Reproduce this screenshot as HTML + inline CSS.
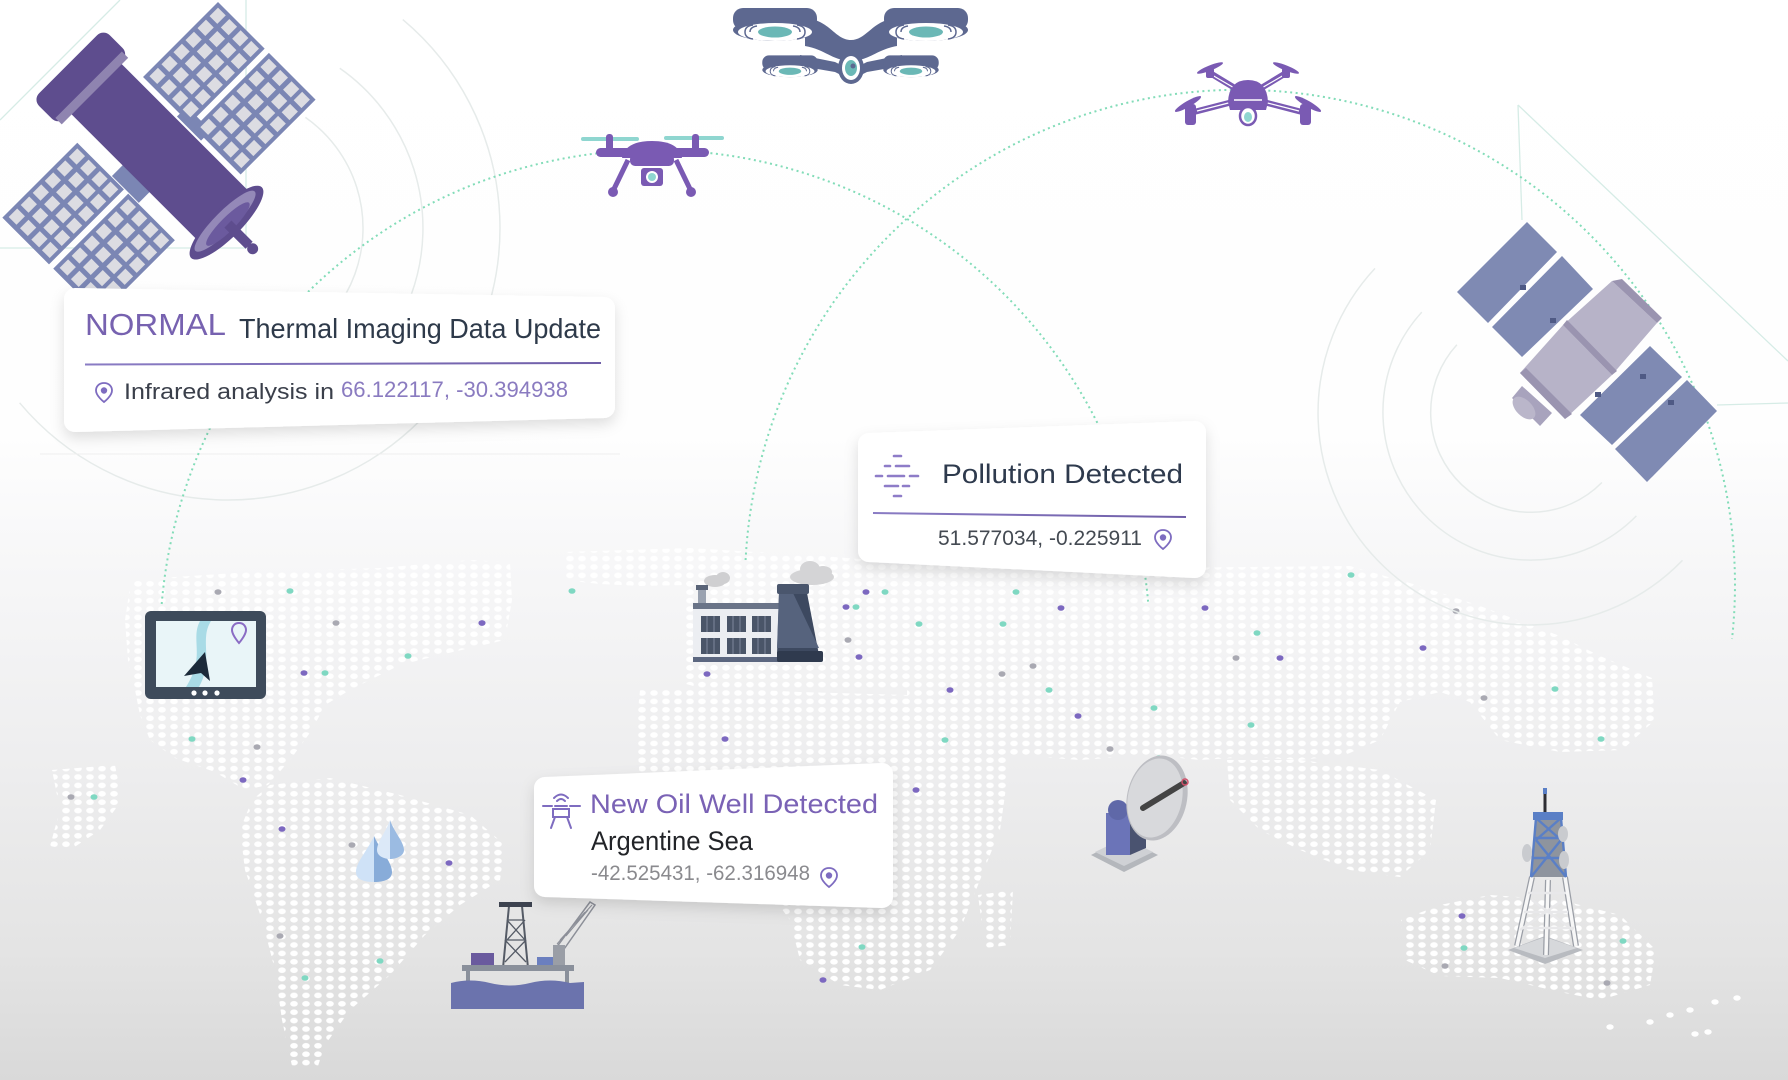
<!DOCTYPE html>
<html><head><meta charset="utf-8"><style>
html,body{margin:0;padding:0;background:#fff;}
svg{display:block;}
text{font-family:"Liberation Sans",Arial,sans-serif;}
</style></head><body>
<svg width="1788" height="1080" viewBox="0 0 1788 1080" xmlns="http://www.w3.org/2000/svg">
<defs>
<linearGradient id="bg" x1="0" y1="0" x2="0" y2="1">
<stop offset="0" stop-color="#ffffff"/><stop offset="0.40" stop-color="#fefefe"/><stop offset="0.52" stop-color="#f7f7f8"/><stop offset="0.70" stop-color="#eeeeef"/><stop offset="0.88" stop-color="#e4e4e4"/><stop offset="1" stop-color="#d9d9d9"/>
</linearGradient>
<pattern id="dots" width="12" height="8.4" patternUnits="userSpaceOnUse"><ellipse cx="6" cy="4.2" rx="3.8" ry="2.8" fill="#ffffff"/></pattern>
<linearGradient id="pl" x1="0" y1="0" x2="1" y2="0"><stop offset="0" stop-color="#8a7cc4"/><stop offset="1" stop-color="#6f5ea8"/></linearGradient>
<filter id="sh" x="-10%" y="-20%" width="120%" height="150%"><feDropShadow dx="0" dy="6" stdDeviation="7" flood-color="#000" flood-opacity="0.13"/></filter>
<g id="panel"><rect x="0" y="0" width="66" height="106" fill="#7b86b4"/>
<g fill="#dcdce2">
<rect x="4" y="4" width="11" height="12"/><rect x="20" y="4" width="11" height="12"/><rect x="36" y="4" width="11" height="12"/><rect x="51" y="4" width="11" height="12"/>
<rect x="4" y="21" width="11" height="12"/><rect x="20" y="21" width="11" height="12"/><rect x="36" y="21" width="11" height="12"/><rect x="51" y="21" width="11" height="12"/>
<rect x="4" y="38" width="11" height="12"/><rect x="20" y="38" width="11" height="12"/><rect x="36" y="38" width="11" height="12"/><rect x="51" y="38" width="11" height="12"/>
<rect x="4" y="55" width="11" height="12"/><rect x="20" y="55" width="11" height="12"/><rect x="36" y="55" width="11" height="12"/><rect x="51" y="55" width="11" height="12"/>
<rect x="4" y="72" width="11" height="12"/><rect x="20" y="72" width="11" height="12"/><rect x="36" y="72" width="11" height="12"/><rect x="51" y="72" width="11" height="12"/>
<rect x="4" y="89" width="11" height="12"/><rect x="20" y="89" width="11" height="12"/><rect x="36" y="89" width="11" height="12"/><rect x="51" y="89" width="11" height="12"/>
</g></g>
<g id="pin"><path d="M0,-9 C-5,-9 -8,-5.5 -8,-1.5 C-8,4 0,10 0,10 C0,10 8,4 8,-1.5 C8,-5.5 5,-9 0,-9 Z" fill="none" stroke="#7e6cc0" stroke-width="1.8"/><circle cx="0" cy="-1.5" r="3.2" fill="#7e6cc0"/></g>
<g id="rotor"><rect x="-42" y="-10" width="84" height="22" rx="10" fill="#5d6890"/><ellipse cx="0" cy="12" rx="42" ry="11" fill="#5d6890"/><ellipse cx="0" cy="14" rx="37" ry="9" fill="#ffffff"/>
<path d="M-30,14 Q-30,8 -22,7 M-25,14 Q-25,9 -18,8 M30,14 Q30,8 22,7 M25,14 Q25,9 18,8 M-30,14 Q-30,20 -22,21 M30,14 Q30,20 22,21" stroke="#5d6890" stroke-width="1.5" fill="none"/>
<ellipse cx="0" cy="14" rx="17" ry="5.5" fill="#6bb8b6"/></g>
</defs>

<rect x="0" y="0" width="1788" height="1080" fill="url(#bg)"/>

<!-- world map dots -->
<g fill="url(#dots)">
<polygon points="131,580 250,572 380,568 470,560 510,562 512,600 505,640 440,655 400,665 350,690 325,705 312,730 290,760 268,785 245,790 215,772 175,758 150,740 140,715 135,690 128,660 125,620"/>
<polygon points="52,770 115,765 122,800 100,830 70,850 50,846 60,810"/>
<polygon points="270,785 330,778 400,795 470,815 505,845 500,880 460,905 425,935 390,975 350,1010 325,1045 318,1066 292,1066 282,1020 275,970 262,920 245,870 240,830 252,800"/>
<polygon points="563,552 690,548 690,585 640,586 600,584 563,580"/>
<polygon points="690,548 820,556 900,562 1000,566 1150,568 1350,566 1420,586 1480,606 1560,636 1600,656 1652,678 1655,720 1622,750 1560,752 1500,740 1470,702 1440,692 1400,702 1380,740 1345,755 1300,760 1250,757 1200,760 1150,755 1080,760 1010,755 960,760 907,765 907,690 800,688 700,688 683,683 683,600"/>
<polygon points="640,690 720,688 800,692 907,695 960,720 1010,760 1000,830 980,880 960,930 930,970 880,990 840,985 800,960 790,920 760,880 700,850 655,820 640,780 636,730"/>
<polygon points="978,895 1013,890 1010,945 985,948"/>
<polygon points="1227,760 1300,760 1380,770 1436,800 1430,850 1400,877 1350,870 1300,850 1260,830 1230,800"/>
<polygon points="1401,920 1440,905 1490,895 1560,900 1620,915 1656,950 1650,985 1600,1000 1560,992 1500,978 1440,976 1405,960"/>
</g>
<g fill="#ffffff">
<ellipse cx="1610" cy="1027" rx="3.7" ry="2.7"/><ellipse cx="1650" cy="1022" rx="3.7" ry="2.7"/><ellipse cx="1670" cy="1015" rx="3.7" ry="2.7"/><ellipse cx="1690" cy="1010" rx="3.7" ry="2.7"/><ellipse cx="1715" cy="1002" rx="3.7" ry="2.7"/><ellipse cx="1737" cy="998" rx="3.7" ry="2.7"/><ellipse cx="1695" cy="1034" rx="3.7" ry="2.7"/><ellipse cx="1708" cy="1032" rx="3.7" ry="2.7"/>
</g>

<!-- colored dots -->
<g>
<g fill="#7c68c0">
<ellipse cx="482" cy="623" rx="3.5" ry="2.8"/><ellipse cx="304" cy="673" rx="3.5" ry="2.8"/><ellipse cx="243" cy="780" rx="3.5" ry="2.8"/><ellipse cx="282" cy="829" rx="3.5" ry="2.8"/><ellipse cx="449" cy="863" rx="3.5" ry="2.8"/><ellipse cx="866" cy="592" rx="3.5" ry="2.8"/><ellipse cx="846" cy="607" rx="3.5" ry="2.8"/><ellipse cx="859" cy="657" rx="3.5" ry="2.8"/><ellipse cx="707" cy="674" rx="3.5" ry="2.8"/><ellipse cx="725" cy="739" rx="3.5" ry="2.8"/><ellipse cx="823" cy="980" rx="3.5" ry="2.8"/><ellipse cx="1061" cy="608" rx="3.5" ry="2.8"/><ellipse cx="1205" cy="608" rx="3.5" ry="2.8"/><ellipse cx="950" cy="690" rx="3.5" ry="2.8"/><ellipse cx="1280" cy="658" rx="3.5" ry="2.8"/><ellipse cx="1423" cy="648" rx="3.5" ry="2.8"/><ellipse cx="1078" cy="716" rx="3.5" ry="2.8"/><ellipse cx="916" cy="790" rx="3.5" ry="2.8"/><ellipse cx="1462" cy="916" rx="3.5" ry="2.8"/><ellipse cx="482" cy="623" rx="3.5" ry="2.8"/>
</g>
<g fill="#7fd8c2">
<ellipse cx="290" cy="591" rx="3.5" ry="2.8"/><ellipse cx="408" cy="656" rx="3.5" ry="2.8"/><ellipse cx="325" cy="673" rx="3.5" ry="2.8"/><ellipse cx="192" cy="739" rx="3.5" ry="2.8"/><ellipse cx="94" cy="797" rx="3.5" ry="2.8"/><ellipse cx="380" cy="961" rx="3.5" ry="2.8"/><ellipse cx="305" cy="978" rx="3.5" ry="2.8"/><ellipse cx="572" cy="591" rx="3.5" ry="2.8"/><ellipse cx="885" cy="592" rx="3.5" ry="2.8"/><ellipse cx="856" cy="607" rx="3.5" ry="2.8"/><ellipse cx="862" cy="947" rx="3.5" ry="2.8"/><ellipse cx="1016" cy="592" rx="3.5" ry="2.8"/><ellipse cx="1351" cy="575" rx="3.5" ry="2.8"/><ellipse cx="919" cy="624" rx="3.5" ry="2.8"/><ellipse cx="1003" cy="624" rx="3.5" ry="2.8"/><ellipse cx="1257" cy="633" rx="3.5" ry="2.8"/><ellipse cx="1049" cy="690" rx="3.5" ry="2.8"/><ellipse cx="1154" cy="708" rx="3.5" ry="2.8"/><ellipse cx="1251" cy="725" rx="3.5" ry="2.8"/><ellipse cx="945" cy="740" rx="3.5" ry="2.8"/><ellipse cx="1159" cy="758" rx="3.5" ry="2.8"/><ellipse cx="1555" cy="689" rx="3.5" ry="2.8"/><ellipse cx="1601" cy="739" rx="3.5" ry="2.8"/><ellipse cx="1464" cy="948" rx="3.5" ry="2.8"/><ellipse cx="1623" cy="941" rx="3.5" ry="2.8"/>
</g>
<g fill="#a9a9b2">
<ellipse cx="218" cy="592" rx="3.5" ry="2.8"/><ellipse cx="336" cy="623" rx="3.5" ry="2.8"/><ellipse cx="257" cy="747" rx="3.5" ry="2.8"/><ellipse cx="71" cy="797" rx="3.5" ry="2.8"/><ellipse cx="352" cy="845" rx="3.5" ry="2.8"/><ellipse cx="280" cy="936" rx="3.5" ry="2.8"/><ellipse cx="848" cy="640" rx="3.5" ry="2.8"/><ellipse cx="1033" cy="666" rx="3.5" ry="2.8"/><ellipse cx="1002" cy="674" rx="3.5" ry="2.8"/><ellipse cx="1236" cy="658" rx="3.5" ry="2.8"/><ellipse cx="1110" cy="749" rx="3.5" ry="2.8"/><ellipse cx="1484" cy="698" rx="3.5" ry="2.8"/><ellipse cx="1445" cy="966" rx="3.5" ry="2.8"/><ellipse cx="1607" cy="983" rx="3.5" ry="2.8"/><ellipse cx="1456" cy="611" rx="3.5" ry="2.8"/>
</g>
</g>

<!-- faint radar arcs and lines -->
<g fill="none" stroke="#e6ebea" stroke-width="1.5">
<path d="M305.4,117.4 A135,135 0 0 1 216.2,362.5"/>
<path d="M339.8,68.3 A195,195 0 0 1 211,422.3"/>
<path d="M402.8,19.6 A272,272 0 1 1 19.6,402.8"/>
<path d="M1456.9,344.8 A100,100 0 0 0 1601.9,482.5"/>
<path d="M1421.8,312.1 A148,148 0 0 0 1636.4,515.9"/>
<path d="M1375,268.4 A212,212 0 0 0 1682.5,560.3"/>
</g>
<g fill="none" stroke="#d6ece6" stroke-width="1.3">
<path d="M246,0 L246,248 L0,248"/>
<path d="M120,0 L0,120"/>
<path d="M1518,105 L1522,220"/>
<path d="M1518,105 L1788,361"/>
<path d="M1717,405 L1788,403"/>
</g>
<path d="M40,454 L620,454" stroke="#eeeeee" stroke-width="1"/>

<!-- dotted arcs -->
<g fill="none" stroke="#82dcb8" stroke-width="2" stroke-dasharray="2 3.5">
<path d="M161.7,604 A495,495 0 0 1 1148.3,604"/>
<path d="M745.6,560 A495,495 0 1 1 1732,639"/>
</g>

<!-- satellite 1 -->
<g transform="translate(218,2) rotate(45)">
<rect x="52" y="96" width="34" height="14" fill="#7b86b4"/>
<rect x="48" y="182" width="38" height="16" fill="#7b86b4"/>
<use href="#panel" x="0" y="0"/><use href="#panel" x="72" y="0"/>
<use href="#panel" x="0" y="199"/><use href="#panel" x="72" y="199"/>
<rect x="-30" y="112" width="190" height="71" fill="#5e4d8e"/>
<rect x="-62" y="100" width="36" height="100" rx="9" fill="#5e4d8e"/>
<rect x="-33" y="103" width="9" height="94" fill="#8f84b0"/>
<ellipse cx="162" cy="150" rx="15" ry="50" fill="#5e4d8e"/>
<ellipse cx="160" cy="150" rx="10" ry="42" fill="#9489b8"/>
<ellipse cx="164" cy="150" rx="7" ry="30" fill="#6b5a9e"/>
<rect x="164" y="145" width="30" height="10" fill="#5e4d8e"/>
<circle cx="199" cy="150" r="5.5" fill="#5e4d8e"/>
</g>

<!-- satellite 2 -->
<g>
<polygon points="1457,292 1527,222 1557,252 1488,323" fill="#7f8ab3"/>
<polygon points="1492,327 1562,256 1593,289 1522,357" fill="#7f8ab3"/>
<polygon points="1580,415 1650,346 1682,377 1612,445" fill="#7f8ab3"/>
<polygon points="1615,449 1687,380 1717,411 1647,482" fill="#7f8ab3"/>
<g fill="#4f5a85"><rect x="1520" y="285" width="6" height="5"/><rect x="1550" y="318" width="6" height="5"/><rect x="1575" y="353" width="6" height="5"/><rect x="1640" y="374" width="6" height="5"/><rect x="1668" y="400" width="6" height="5"/><rect x="1595" y="392" width="6" height="5"/></g>
<polygon points="1520,373 1563,325 1612,375 1565,419" fill="#b7b3c8"/>
<polygon points="1563,325 1612,281 1657,323 1612,375" fill="#b7b3c8"/>
<polygon points="1563,325 1567,320 1617,371 1612,375" fill="#9a94b0"/>
<polygon points="1612,281 1622,279 1662,318 1657,323" fill="#9a94b0"/>
<polygon points="1512,398 1522,386 1552,413 1540,426" fill="#a8a3bd"/>
<polygon points="1520,373 1526,368 1572,414 1565,419" fill="#9a94b0"/>
<ellipse cx="1524" cy="408" rx="8" ry="14" transform="rotate(-45 1524 408)" fill="#bab6ca"/>
</g>

<!-- big drone (top) -->
<g>
<path d="M805,18 C830,20 835,40 851,40 C867,40 872,20 897,18 L897,46 C875,50 868,62 851,60 C834,62 827,50 805,46 Z" fill="#5d6890"/>
<path d="M800,55 L835,62 L851,70 L867,62 L902,55 L902,66 L867,72 L851,80 L835,72 L800,66 Z" fill="#5d6890"/>
<use href="#rotor" transform="translate(775,18)"/>
<use href="#rotor" transform="translate(926,18)"/>
<use href="#rotor" transform="translate(790,62) scale(0.66)"/>
<use href="#rotor" transform="translate(911,62) scale(0.66)"/>
<ellipse cx="851" cy="68" rx="13" ry="16" fill="#5d6890"/>
<ellipse cx="851" cy="68" rx="9" ry="12" fill="#ffffff"/>
<ellipse cx="851" cy="68" rx="6" ry="8" fill="#6bb8b6"/>
<circle cx="853" cy="66" r="2.5" fill="#5d6890"/>
</g>

<!-- drone 2 (purple side) -->
<g fill="#7a5ab3">
<rect x="581" y="137" width="58" height="4" rx="2" fill="#8fd6d0"/>
<rect x="664" y="136" width="60" height="4" rx="2" fill="#8fd6d0"/>
<rect x="606" y="134" width="7" height="19" rx="3"/>
<rect x="692" y="134" width="7" height="19" rx="3"/>
<rect x="596" y="148" width="113" height="9" rx="4.5"/>
<path d="M622,158 Q625,141 652,141 Q679,141 682,158 Z"/>
<rect x="630" y="154" width="44" height="12" rx="5"/>
<path d="M628,160 L613,191 M676,160 L691,191" stroke="#7a5ab3" stroke-width="5"/>
<circle cx="613" cy="192" r="5"/><circle cx="691" cy="192" r="5"/>
<rect x="641" y="168" width="22" height="18" rx="3"/>
<circle cx="652" cy="177" r="6" fill="#ffffff"/><circle cx="652" cy="177" r="4" fill="#8fd6d0"/>
</g>

<!-- drone 3 (purple quad) -->
<g>
<path d="M1248,96 L1210,73 M1248,96 L1286,73 M1248,98 L1194,112 M1248,98 L1302,112" stroke="#7a5ab3" stroke-width="6" stroke-linecap="round"/>
<path d="M1248,96 L1212,75 M1248,96 L1284,75 M1248,98 L1197,111 M1248,98 L1299,111" stroke="#ffffff" stroke-width="1.2"/>
<g fill="#7a5ab3">
<rect x="1206" y="68" width="8" height="10" rx="2"/><rect x="1282" y="68" width="8" height="10" rx="2"/>
<ellipse cx="1210" cy="68" rx="14" ry="2.6" transform="rotate(-22 1210 68)"/>
<ellipse cx="1286" cy="68" rx="14" ry="2.6" transform="rotate(22 1286 68)"/>
<rect x="1185" y="104" width="11" height="21" rx="3"/><rect x="1300" y="104" width="11" height="21" rx="3"/>
<ellipse cx="1188" cy="104" rx="15" ry="3" transform="rotate(-30 1188 104)"/>
<ellipse cx="1308" cy="104" rx="15" ry="3" transform="rotate(30 1308 104)"/>
<path d="M1228,102 Q1229,80 1248,80 Q1267,80 1268,102 L1266,110 L1230,110 Z"/>
</g>
<path d="M1234,100 L1262,100" stroke="#ffffff" stroke-width="1.5"/>
<ellipse cx="1248" cy="116" rx="8" ry="9" fill="#ffffff" stroke="#7a5ab3" stroke-width="2.5"/>
<ellipse cx="1248" cy="117" rx="4" ry="5" fill="#8fd6d0"/>
</g>

<!-- tablet -->
<g>
<rect x="145" y="611" width="121" height="88" rx="6" fill="#3e4b5b"/>
<rect x="156" y="621" width="100" height="66" fill="#e9f5f8"/>
<path d="M200,621 C190,640 206,656 186,687 L199,687 C214,660 199,640 211,621 Z" fill="#a9dbe6"/>
<polygon points="205,652 210,681 201,673 184,676" fill="#1c2a3a"/>
<path d="M239,623 C234,623 232,627 232,630 C232,635 239,643 239,643 C239,643 246,635 246,630 C246,627 244,623 239,623 Z" fill="none" stroke="#8a6cc4" stroke-width="2"/>
<circle cx="194" cy="693" r="2.6" fill="#fff"/><circle cx="205" cy="693" r="2.6" fill="#fff"/><circle cx="217" cy="693" r="2.6" fill="#fff"/>
</g>

<!-- factory -->
<g>
<ellipse cx="715" cy="581" rx="11" ry="6" fill="#cfcfd1"/><ellipse cx="723" cy="578" rx="7" ry="6" fill="#cfcfd1"/>
<ellipse cx="812" cy="577" rx="22" ry="8" fill="#d4d4d6"/><ellipse cx="810" cy="569" rx="10" ry="8" fill="#d4d4d6"/><ellipse cx="823" cy="572" rx="9" ry="6" fill="#d4d4d6"/>
<rect x="698" y="588" width="8" height="16" fill="#9aa2b0"/><rect x="696" y="585" width="12" height="5" fill="#5a6478"/>
<rect x="693" y="603" width="88" height="58" fill="#eceef2"/>
<rect x="693" y="603" width="88" height="6" fill="#6a7488"/>
<g fill="#4a5568">
<rect x="701" y="616" width="19" height="16"/><rect x="727" y="616" width="19" height="16"/><rect x="752" y="616" width="19" height="16"/>
<rect x="701" y="638" width="19" height="16"/><rect x="727" y="638" width="19" height="16"/><rect x="752" y="638" width="19" height="16"/>
</g>
<g stroke="#7d889b" stroke-width="1"><path d="M707,616V632M714,616V632M733,616V632M740,616V632M758,616V632M765,616V632M707,638V654M714,638V654M733,638V654M740,638V654M758,638V654M765,638V654"/></g>
<rect x="693" y="657" width="88" height="5" fill="#5c6780"/>
<polygon points="779,593 807,593 819,655 777,655" fill="#3d4960"/>
<polygon points="779,593 793,593 819,648 777,648" fill="#56637d"/>
<rect x="777" y="584" width="32" height="10" rx="2" fill="#4a566d"/>
<rect x="777" y="651" width="46" height="11" rx="2" fill="#2f3a4e"/>
</g>

<!-- water drops -->
<g>
<path d="M374,836 C368,850 356,862 356,872 C356,880 365,882 374,882 Z" fill="#cfe2f7"/>
<path d="M374,836 C380,850 392,862 392,872 C392,880 383,882 374,882 Z" fill="#88acd9"/>
<path d="M390,820 C386,832 377,842 377,850 C377,856 384,859 390,859 Z" fill="#dce9f8"/>
<path d="M390,820 C394,832 404,842 404,850 C404,856 396,859 390,859 Z" fill="#9bbbe2"/>
</g>

<!-- oil rig -->
<g>
<path d="M556,948 L590,902 L595,905 L562,952 Z" fill="none" stroke="#8c8f98" stroke-width="1.5"/>
<path d="M560,940 L592,905 M557,944 L585,912 M566,936 L588,910" stroke="#8c8f98" stroke-width="1"/>
<rect x="553" y="945" width="12" height="21" fill="#9a9ea6"/>
<polygon points="503,968 528,968 522,906 509,906" fill="none" stroke="#555b66" stroke-width="2"/>
<path d="M507,920 L525,940 M525,920 L507,940 M505,940 L526,962 M526,940 L505,962 M508,920 L523,920 M506,940 L525,940" stroke="#555b66" stroke-width="1.3"/>
<rect x="499" y="902" width="33" height="5" fill="#3d4350"/>
<rect x="471" y="953" width="23" height="14" fill="#6a5a9e"/>
<rect x="537" y="957" width="16" height="10" fill="#6b7fbf"/>
<rect x="462" y="965" width="112" height="6" fill="#8a909b"/>
<rect x="466" y="970" width="4" height="14" fill="#8a909b"/><rect x="565" y="970" width="4" height="14" fill="#8a909b"/>
<path d="M451,983 Q470,978 490,983 T530,983 T570,983 L584,982 L584,1009 L451,1009 Z" fill="#6b73ad"/>
</g>

<!-- satellite dish -->
<g>
<polygon points="1091,855 1124,838 1158,855 1124,872" fill="#b4b7bc"/>
<polygon points="1095,852 1124,838 1153,852 1124,866" fill="#cfd1d5"/>
<rect x="1106" y="813" width="24" height="42" fill="#6b74b8"/>
<polygon points="1130,813 1146,806 1146,848 1130,855" fill="#4a5370"/>
<circle cx="1118" cy="810" r="10" fill="#5f68a8"/>
<ellipse cx="1157" cy="798" rx="30" ry="43" transform="rotate(12 1157 798)" fill="#bdbec3"/>
<ellipse cx="1155" cy="798" rx="27" ry="40" transform="rotate(12 1155 798)" fill="#d8d9dc"/>
<path d="M1143,808 L1184,783" stroke="#444" stroke-width="6" stroke-linecap="round"/>
<circle cx="1185" cy="782" r="3" fill="none" stroke="#d0506a" stroke-width="1.5"/>
</g>

<!-- tower -->
<g>
<polygon points="1508,950 1545,936 1583,950 1545,964" fill="#b8bbc0"/>
<polygon points="1514,948 1545,937 1577,948 1545,958" fill="#d6d8db"/>
<g stroke="#9a9ea6" stroke-width="6" fill="none">
<path d="M1517,946 L1532,877 M1576,946 L1565,877 M1546,955 L1548,880"/>
</g>
<g stroke="#f7f7f7" stroke-width="3.5" fill="none">
<path d="M1517,946 L1532,877 M1576,946 L1565,877 M1546,955 L1548,880"/>
</g>
<g stroke="#e8e8ea" stroke-width="2.5" fill="none">
<path d="M1520,930 L1563,900 M1573,930 L1532,900 M1524,912 L1568,912 M1528,893 L1566,893 M1522,928 L1574,928"/>
</g>
<polygon points="1531,877 1566,877 1561,818 1536,818" fill="#8e949e"/>
<g stroke="#5a7fc6" stroke-width="2.4" fill="none">
<path d="M1531,877 L1536,818 M1566,877 L1561,818 M1531,877 L1561,840 M1566,877 L1536,840 M1536,840 L1561,818 M1561,840 L1536,818 M1533,858 L1564,858 M1535,838 L1562,838"/>
</g>
<rect x="1533" y="812" width="30" height="8" fill="#5a7fc6"/>
<path d="M1545,790 L1545,812" stroke="#2d2d33" stroke-width="3"/>
<rect x="1543" y="788" width="4" height="6" fill="#5a7fc6"/>
<ellipse cx="1527" cy="853" rx="5" ry="9" fill="#c9cbcf"/>
<ellipse cx="1563" cy="834" rx="5" ry="8" fill="#c9cbcf"/>
<ellipse cx="1564" cy="860" rx="5" ry="9" fill="#c9cbcf"/>
</g>

<!-- Card 1 -->
<g filter="url(#sh)">
<polygon points="75,299 604,308 604,407 75,421" fill="#ffffff" stroke="#ffffff" stroke-width="22" stroke-linejoin="round"/>
</g>
<text x="85" y="335" font-size="31" fill="#7762b0" textLength="141" lengthAdjust="spacingAndGlyphs">NORMAL</text>
<text x="239" y="338" font-size="28" fill="#2e3a4a" textLength="362" lengthAdjust="spacingAndGlyphs">Thermal Imaging Data Update</text>
<path d="M85,364.5 L601,363" stroke="url(#pl)" stroke-width="2"/>
<use href="#pin" transform="translate(104,392)"/>
<text x="124" y="399" font-size="22" fill="#3a3f4a" textLength="210" lengthAdjust="spacingAndGlyphs">Infrared analysis in</text>
<text x="341" y="397" font-size="22" fill="#8a7bc0" textLength="227" lengthAdjust="spacingAndGlyphs">66.122117, -30.394938</text>

<!-- Card 2 -->
<g filter="url(#sh)">
<polygon points="869,444 1195,432 1195,567 869,551" fill="#ffffff" stroke="#ffffff" stroke-width="22" stroke-linejoin="round"/>
</g>
<g stroke="#8e7cc8" stroke-width="2.6" stroke-linecap="round">
<path d="M894,456 L901,456 M885,466 L890,466 M896,466 L909,466 M876,476 L882,476 M888,476 L904,476 M910,476 L918,476 M885,486 L898,486 M903,486 L909,486 M894,496 L901,496"/>
</g>
<text x="942" y="483" font-size="27" fill="#2e3a4d" textLength="241" lengthAdjust="spacingAndGlyphs">Pollution Detected</text>
<path d="M873,513 L1186,517" stroke="url(#pl)" stroke-width="2"/>
<text x="938" y="545" font-size="21" fill="#444a52" textLength="204" lengthAdjust="spacingAndGlyphs">51.577034, -0.225911</text>
<use href="#pin" transform="translate(1163,539)"/>

<!-- Card 3 -->
<g filter="url(#sh)">
<polygon points="545,788 882,774 882,897 545,886" fill="#ffffff" stroke="#ffffff" stroke-width="22" stroke-linejoin="round"/>
</g>
<g stroke="#7e6cc0" stroke-width="2" fill="none" stroke-linecap="round">
<path d="M554,798 Q561,791 568,798 M557,801 Q561,797 565,801"/>
<path d="M543,806 L552,806 M570,806 L580,806 M555,806 L567,806"/>
<rect x="553" y="809" width="16" height="8"/>
<path d="M555,817 L551,828 M567,817 L571,828"/>
</g>
<text x="590" y="813" font-size="27" fill="#7a62b5" textLength="288" lengthAdjust="spacingAndGlyphs">New Oil Well Detected</text>
<text x="591" y="850" font-size="27" fill="#222428" textLength="162" lengthAdjust="spacingAndGlyphs">Argentine Sea</text>
<text x="591" y="880" font-size="21" fill="#8a8a8e" textLength="219" lengthAdjust="spacingAndGlyphs">-42.525431, -62.316948</text>
<use href="#pin" transform="translate(829,877)"/>
</svg>
</body></html>
